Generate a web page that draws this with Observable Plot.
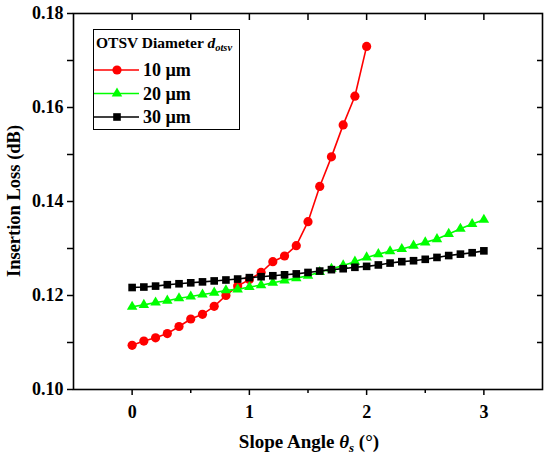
<!DOCTYPE html>
<html><head><meta charset="utf-8">
<script src="https://cdn.jsdelivr.net/npm/d3@7"></script>
<script src="https://cdn.jsdelivr.net/npm/@observablehq/plot@0.6"></script>
<style>body{margin:0;background:#fff} #chart svg{display:block}</style>
</head><body><div id="chart"></div>
<script>
// ---- data ----
const angles10 = [0,0.1,0.2,0.3,0.4,0.5,0.6,0.7,0.8,0.9,1.0,1.1,1.2,1.3,1.4,1.5,1.6,1.7,1.8,1.9,2.0];
const loss10 = [0.1094,0.1103,0.1110,0.1119,0.1134,0.1150,0.1160,0.1177,0.1200,0.1220,0.1234,0.1249,0.1272,0.1284,0.1306,0.1357,0.1432,0.1495,0.1563,0.1624,0.1730];
const angles20 = [0,0.1,0.2,0.3,0.4,0.5,0.6,0.7,0.8,0.9,1.0,1.1,1.2,1.3,1.4,1.5,1.6,1.7,1.8,1.9,2.0,2.1,2.2,2.3,2.4,2.5,2.6,2.7,2.8,2.9,3.0];
const loss20 = [0.1176,0.1180,0.1185,0.1189,0.1194,0.1198,0.1202,0.1206,0.1211,0.1213,0.1218,0.1222,0.1227,0.1232,0.1237,0.1242,0.1250,0.1257,0.1264,0.1272,0.1281,0.1288,0.1294,0.1299,0.1306,0.1313,0.1320,0.1331,0.1342,0.1352,0.1361];
const angles30 = [0,0.1,0.2,0.3,0.4,0.5,0.6,0.7,0.8,0.9,1.0,1.1,1.2,1.3,1.4,1.5,1.6,1.7,1.8,1.9,2.0,2.1,2.2,2.3,2.4,2.5,2.6,2.7,2.8,2.9,3.0];
const loss30 = [0.1217,0.1218,0.1220,0.1223,0.1225,0.1227,0.1229,0.1231,0.1233,0.1235,0.1238,0.1240,0.1242,0.1244,0.1246,0.1249,0.1252,0.1255,0.1257,0.1260,0.1262,0.1265,0.1269,0.1272,0.1274,0.1277,0.1281,0.1285,0.1288,0.1291,0.1295];

const seriesNames = ["10 µm", "20 µm", "30 µm"];
const seriesColors = ["#ff0000", "#00ff00", "#000000"];
const seriesSymbols = ["circle", "triangle", "square"];
const seriesRadii = [4.6, 3.9, 4.3];

const xMajorTicks = [0, 1, 2, 3];
const xMinorTicks = [0.5, 1.5, 2.5];
const xAllTicks = [0, 0.5, 1, 1.5, 2, 2.5, 3];
const yMajorTicks = [0.10, 0.12, 0.14, 0.16, 0.18];
const yMinorTicks = [0.11, 0.13, 0.15, 0.17];
const yAllTicks = [0.11, 0.12, 0.13, 0.14, 0.15, 0.16, 0.17];

const legendTitle = "OTSV Diameter ";
const xTitle = "Slope Angle ";
const yTitle = "Insertion Loss (dB)";

// ---- build ----
const series = [
  angles10.map((a, i) => ({angle: a, loss: loss10[i]})),
  angles20.map((a, i) => ({angle: a, loss: loss20[i]})),
  angles30.map((a, i) => ({angle: a, loss: loss30[i]}))
];

const FONT = "'Liberation Serif','Times New Roman',serif";

const seriesMarks = series.flatMap((rows, k) => [
  Plot.line(rows, {x: "angle", y: "loss", stroke: seriesColors[k], strokeWidth: 1.6}),
  Plot.dot(rows, {x: "angle", y: "loss", symbol: () => seriesSymbols[k], fill: seriesColors[k], stroke: "none", r: seriesRadii[k]})
]);

const plot = Plot.plot({
  width: 550, height: 461,
  marginLeft: 73, marginRight: 8, marginTop: 13, marginBottom: 72,
  x: {domain: [-0.5, 3.5]},
  y: {domain: [0.10, 0.18]},
  symbol: {type: "identity"},
  style: {fontFamily: FONT, fontSize: "18px", fontWeight: "bold", background: "#fff", color: "#000"},
  marks: [
    Plot.axisX(xMajorTicks, {anchor: "bottom", tickSize: 6, tickPadding: 10, tickFormat: d => String(d), label: null, strokeWidth: 1.5}),
    Plot.axisX(xMinorTicks, {anchor: "bottom", tickSize: 4, tickFormat: () => "", label: null, strokeWidth: 1.5}),
    Plot.axisX(xAllTicks, {anchor: "top", tickSize: -6, tickFormat: () => "", label: null, strokeWidth: 1.5}),
    Plot.axisY(yMajorTicks, {anchor: "left", tickSize: 6, tickPadding: 4, tickFormat: d => d.toFixed(2), label: null, strokeWidth: 1.5}),
    Plot.axisY(yMinorTicks, {anchor: "left", tickSize: 6, tickFormat: () => "", label: null, strokeWidth: 1.5}),
    Plot.axisY(yAllTicks, {anchor: "right", tickSize: -6, tickFormat: () => "", label: null, strokeWidth: 1.5}),
    ...seriesMarks,
    Plot.frame({stroke: "#000", strokeWidth: 1.6})
  ]
});
document.getElementById("chart").appendChild(plot);

const svg = d3.select(plot);

// y title
svg.append("text")
  .attr("transform", "translate(20,201) rotate(-90)")
  .attr("text-anchor", "middle")
  .style("font-family", FONT).style("font-size", "18.5px").style("font-weight", "bold")
  .attr("fill", "#000")
  .text(yTitle);

// x title
const xt = svg.append("text")
  .attr("x", 309).attr("y", 448)
  .attr("text-anchor", "middle")
  .style("font-family", FONT).style("font-size", "19px").style("font-weight", "bold")
  .attr("fill", "#000");
xt.append("tspan").text(xTitle);
xt.append("tspan").style("font-style", "italic").text("θ");
xt.append("tspan").style("font-style", "italic").style("font-size", "13px").attr("dy", 4).text("s");
xt.append("tspan").attr("dy", -4).text(" (°)");

// legend
const lg = svg.append("g").style("font-family", FONT).style("font-weight", "bold").attr("text-anchor", "start");
lg.append("rect").attr("x", 93.5).attr("y", 29.5).attr("width", 146).attr("height", 100)
  .attr("fill", "#fff").attr("stroke", "#000").attr("stroke-width", 1);
const lt = lg.append("text").attr("x", 96).attr("y", 48).attr("text-anchor", "start").style("font-size", "15.5px").attr("fill", "#000");
lt.append("tspan").text(legendTitle);
lt.append("tspan").style("font-style", "italic").text("d");
lt.append("tspan").style("font-style", "italic").style("font-size", "10.5px").attr("dy", 3).text("otsv");

const symMap = {circle: d3.symbolCircle, triangle: d3.symbolTriangle, square: d3.symbolSquare};
const rowY = [70, 93.5, 117];
seriesNames.forEach((name, k) => {
  const y = rowY[k];
  lg.append("line").attr("x1", 94).attr("x2", 139).attr("y1", y).attr("y2", y)
    .attr("stroke", seriesColors[k]).attr("stroke-width", 1.6);
  lg.append("path").attr("transform", `translate(117,${y})`)
    .attr("d", d3.symbol(symMap[seriesSymbols[k]], Math.PI * seriesRadii[k] * seriesRadii[k])())
    .attr("fill", seriesColors[k]);
  lg.append("text").attr("x", 143).attr("y", y + 6).attr("text-anchor", "start").style("font-size", "18px").attr("fill", "#000").text(name);
});
</script>
</body></html>
